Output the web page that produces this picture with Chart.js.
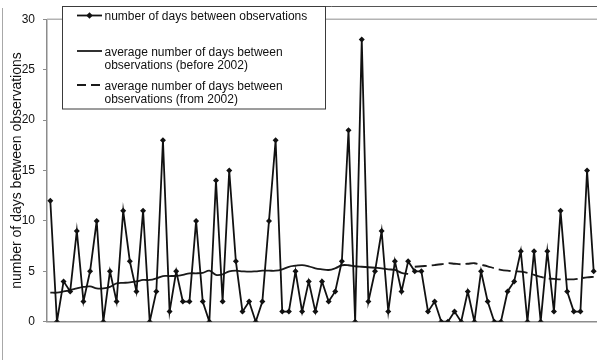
<!DOCTYPE html>
<html>
<head>
<meta charset="utf-8">
<script src="https://cdn.jsdelivr.net/npm/chart.js@4"></script>
<style>
html,body{margin:0;padding:0;overflow:hidden;background:#fff;}
#wrap{position:absolute;left:0;top:0;width:600px;height:360px;}
</style>
</head>
<body>
<div id="wrap"><canvas id="c" width="600" height="360"></canvas></div>
<script>
// ---- data ----
const categories = ["1","2","3","4","5","6","7","8","9","10","11","12","13","14","15","16","17","18","19","20",
"21","22","23","24","25","26","27","28","29","30","31","32","33","34","35","36","37","38","39","40",
"41","42","43","44","45","46","47","48","49","50","51","52","53","54","55","56","57","58","59","60",
"61","62","63","64","65","66","67","68","69","70","71","72","73","74","75","76","77","78","79","80",
"81","82","83"];
const daysBetween = [12,0,4,3,9,2,5,10,0,5,2,11,6,3,11,0,3,18,1,5,2,2,10,
  2,0,14,2,15,6,1,2,0,2,10,18,1,1,5,1,4,1,4,2,3,6,19,0,28,2,5,9,1,6,
  3,6,5,5,1,2,0,0,1,0,3,0,5,2,0,0,3,4,7,0,7,0,7,1,11,3,1,1,15,5];
const avgBefore2002 = [2.88,2.88,3.0,3.14,3.3,3.45,3.5,3.3,3.3,3.45,3.8,3.85,3.9,4.0,4.14,4.14,4.3,4.53,4.53,4.55,
  4.65,4.8,4.8,4.85,5.06,4.65,4.7,5.0,5.06,5.0,4.96,5.0,5.06,5.06,5.06,5.2,5.45,5.55,5.62,5.5,
  5.3,5.2,5.13,5.3,5.6,5.6,5.5,5.45,5.4,5.35,5.3,5.2,5.13,4.85,4.75];
const avgFrom2002 = [5.45,5.5,5.55,5.62,5.7,5.8,5.75,5.7,5.75,5.8,5.65,5.5,5.3,5.15,5.06,5.0,4.96,4.85,4.65,4.45,
  4.3,4.25,4.2,4.2,4.2,4.3,4.4,4.45];
const yTicks = [0,5,10,15,20,25,30];
const seriesNames = ["number of days between observations",
  ["average number of days between","observations (before 2002)"],
  ["average number of days between","observations (from 2002)"]];
const yTitle = "number of days between observations";

const FONT = "'Liberation Sans', Arial, sans-serif";
const beforeData = avgBefore2002.concat(Array(categories.length - avgBefore2002.length).fill(null));
const fromData = Array(categories.length - avgFrom2002.length).fill(null).concat(avgFrom2002);

const framePlugin = {
  id: 'frame',
  beforeDatasetsDraw(chart) {
    const {ctx, chartArea, scales} = chart;
    const y = scales.y.getPixelForValue(yTicks[yTicks.length-1]);
    ctx.save();
    ctx.strokeStyle = '#b3b3b3';
    ctx.lineWidth = 1.5;
    ctx.beginPath();
    ctx.moveTo(chartArea.left, y);
    ctx.lineTo(chartArea.right, y);
    ctx.stroke();
    ctx.restore();
  },
  afterDraw(chart) {
    const ctx = chart.ctx;
    ctx.save();
    // outer frame pieces
    ctx.strokeStyle = '#a8a8a8';
    ctx.lineWidth = 1;
    ctx.beginPath(); ctx.moveTo(2.5, 8); ctx.lineTo(2.5, 360); ctx.stroke();
    ctx.strokeStyle = '#555';
    ctx.beginPath(); ctx.moveTo(62.5, 6.5); ctx.lineTo(600, 6.5); ctx.stroke();
    // legend box
    const bx = 62.5, by = 6.5, bw = 263, bh = 102.5;
    ctx.fillStyle = '#fff';
    ctx.fillRect(bx, by, bw, bh);
    ctx.strokeStyle = '#3a3a3a';
    ctx.lineWidth = 1;
    ctx.strokeRect(bx, by, bw, bh);
    const ds = chart.data.datasets;
    const rows = [
      {ly: 15.5, ty: [16.5]},
      {ly: 51, ty: [52.3, 65.7]},
      {ly: 85, ty: [86.7, 100]}
    ];
    ctx.font = '12px ' + FONT;
    ctx.textBaseline = 'middle';
    ctx.textAlign = 'left';
    rows.forEach((r, i) => {
      const d = ds[i];
      ctx.strokeStyle = d.borderColor;
      ctx.lineWidth = d.borderWidth;
      ctx.setLineDash(i === 2 ? [9, 5] : []);
      ctx.beginPath(); ctx.moveTo(77, r.ly); ctx.lineTo(102, r.ly); ctx.stroke();
      ctx.setLineDash([]);
      if (i === 0) {
        const cx = 89.5, cy = r.ly, s = 3.2;
        ctx.fillStyle = d.pointBackgroundColor;
        ctx.beginPath();
        ctx.moveTo(cx, cy - s); ctx.lineTo(cx + s, cy); ctx.lineTo(cx, cy + s); ctx.lineTo(cx - s, cy);
        ctx.closePath(); ctx.fill();
      }
      ctx.fillStyle = '#111';
      const lines = Array.isArray(d.label) ? d.label : [d.label];
      lines.forEach((t, k) => ctx.fillText(t, 104.5, r.ty[k]));
    });
    ctx.restore();
  }
};

new Chart(document.getElementById('c'), {
  type: 'line',
  data: {
    labels: categories,
    datasets: [
      {label: seriesNames[0], data: daysBetween, borderColor: '#111', borderWidth: 1.8,
       pointStyle: 'rectRot', pointRadius: 3, pointBackgroundColor: '#111', pointBorderWidth: 0,
       pointHoverRadius: 3, tension: 0, order: 1},
      {label: seriesNames[1], data: beforeData, borderColor: '#1a1a1a', borderWidth: 1.8,
       pointRadius: 0, tension: 0.35, spanGaps: false, order: 2},
      {label: seriesNames[2], data: fromData, borderColor: '#1a1a1a', borderWidth: 1.8,
       borderDash: [12, 5], pointRadius: 0, tension: 0.35, spanGaps: false, order: 2}
    ]
  },
  options: {
    responsive: false,
    animation: false,
    events: [],
    layout: {padding: {top: 19.3, bottom: 38.3, left: 0, right: 0}},
    plugins: {legend: {display: false}, tooltip: {enabled: false}, title: {display: false}},
    scales: {
      x: {
        type: 'category', offset: true,
        grid: {display: false},
        ticks: {display: false},
        border: {display: true, color: '#8c8c8c', width: 1.5},
        afterFit(s) { s.height = 0; }
      },
      y: {
        min: 0, max: 30,
        afterBuildTicks(s) { s.ticks = yTicks.map(v => ({value: v})); },
        ticks: {font: {size: 12, family: FONT}, color: '#111', padding: 8},
        grid: {drawOnChartArea: false, drawTicks: true, tickLength: 4, color: '#8c8c8c', lineWidth: 1},
        border: {display: true, color: '#8c8c8c', width: 1.5},
        title: {display: true, text: yTitle, font: {size: 14, family: FONT}, color: '#111',
                padding: {top: 9, bottom: 0}},
        afterFit(s) { s.width = 47; }
      }
    }
  },
  plugins: [framePlugin]
});
</script>
</body>
</html>
